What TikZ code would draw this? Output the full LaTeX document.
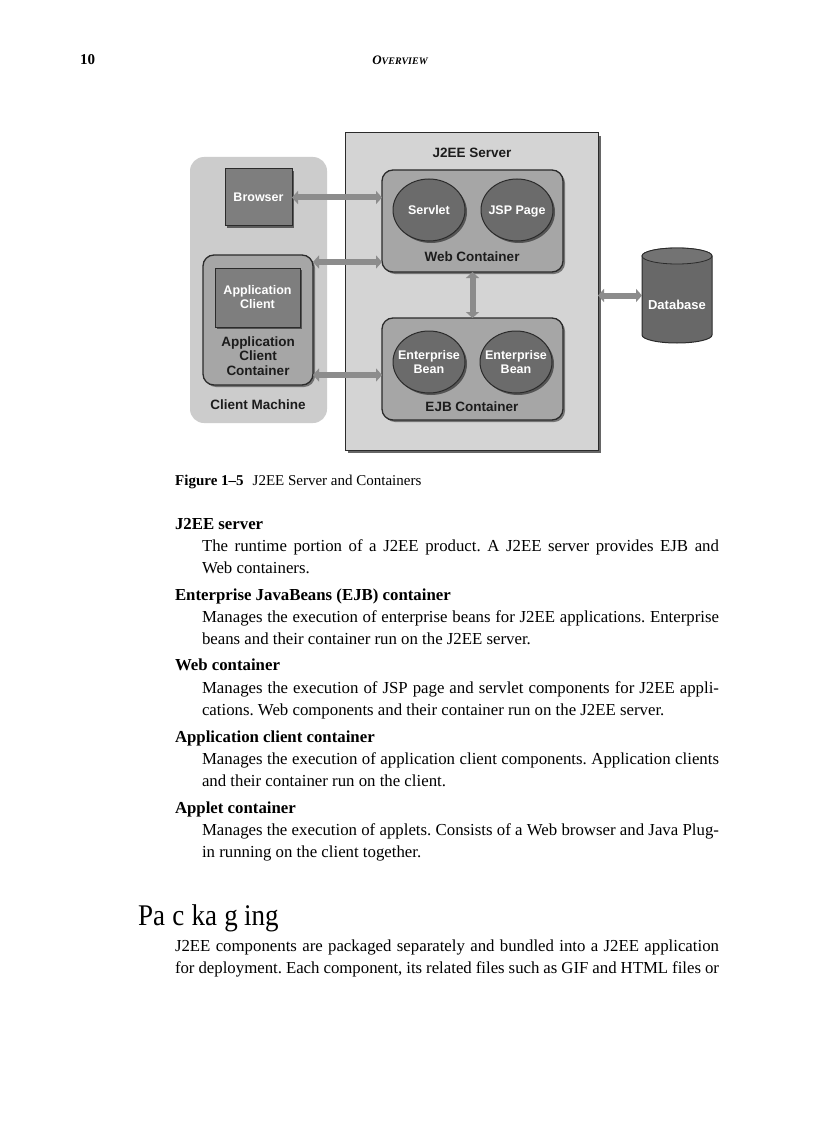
\documentclass[tikz,border=0pt]{standalone}
\usepackage{fontspec}
\setmainfont{Liberation Serif}
\newfontfamily\dsans{Liberation Sans}
\usetikzlibrary{arrows.meta,shapes.geometric,shadows}
\definecolor{cmgray}{HTML}{CCCCCC}
\definecolor{srvgray}{HTML}{D4D4D4}
\definecolor{contgray}{HTML}{A6A6A6}
\definecolor{circgray}{HTML}{6B6B6B}
\definecolor{boxgray}{HTML}{7E7E7E}
\definecolor{arrgray}{HTML}{8C8C8C}
\definecolor{dbgray}{HTML}{686868}
\definecolor{edgec}{HTML}{2B2B2B}
\definecolor{labc}{HTML}{1C1C1C}
\frenchspacing
\begin{document}
\begin{tikzpicture}[x=1pt,y=-1pt,
  cmbox/.style={fill=cmgray, rounded corners=14pt, inner sep=0pt, outer sep=0pt},
  srvbox/.style={fill=srvgray, draw=edgec, line width=1pt, inner sep=0pt, outer sep=0pt,
     drop shadow={shadow xshift=3pt, shadow yshift=-3pt, fill=black!75, opacity=0.8}},
  contbox/.style={fill=contgray, draw=edgec, line width=1.3pt, rounded corners=11pt, inner sep=0pt, outer sep=0pt,
     drop shadow={shadow xshift=2pt, shadow yshift=-2pt, fill=black!70, opacity=0.7}},
  compbox/.style={fill=boxgray, draw=edgec, line width=1pt, inner sep=0pt, outer sep=0pt, text=white,
     align=center, font=\dsans\bfseries\fontsize{12.5}{14}\selectfont,
     drop shadow={shadow xshift=2pt, shadow yshift=-2pt, fill=black!75, opacity=0.8}},
  comp/.style={ellipse, fill=circgray, draw=edgec, line width=1pt, inner sep=0pt, outer sep=0pt,
     minimum width=72pt, minimum height=62pt,
     drop shadow={shadow xshift=2pt, shadow yshift=-2pt, fill=black!75, opacity=0.8}},
  comptext/.style={text=white, align=center, inner sep=0pt, font=\dsans\bfseries\fontsize{12.5}{14}\selectfont},
  dlabel/.style={text=labc, align=center, inner sep=0pt, font=\dsans\bfseries\fontsize{13.5}{14.5}\selectfont},
  arr/.style={draw=arrgray, line width=6pt, {Triangle[length=6pt,width=13pt]}-{Triangle[length=6pt,width=13pt]}},
  txt/.style={anchor=base west, inner sep=0pt, outer sep=0pt, font=\fontsize{16.8}{22}\selectfont},
  hd/.style={anchor=base west, inner sep=0pt, outer sep=0pt, font=\fontsize{16.8}{22}\selectfont\bfseries}
]
\useasboundingbox (0,0) rectangle (816,1123);
\fill[white] (0,0) rectangle (816,1123);

% page header
\node[anchor=base west, inner sep=0pt, font=\fontsize{15}{18}\selectfont\bfseries] (pgno) at (80,65) {10};
\node[anchor=base, inner sep=0pt, font=\bfseries\itshape] (runhead) at (400,65)
  {\fontsize{13}{15}\selectfont O\fontsize{10}{12}\selectfont VERVIEW};

% ---------- diagram ----------
\node[cmbox, minimum width=137pt, minimum height=266pt] (cm) at (258.5,290) {};
\node[srvbox, minimum width=253pt, minimum height=317pt] (server) at (471.5,291.5) {};

\node[contbox, minimum width=181pt, minimum height=102pt] (webc) at (472.5,221) {};
\node[contbox, minimum width=181pt, minimum height=102pt] (ejbc) at (472.5,369) {};
\node[contbox, minimum width=110pt, minimum height=130pt] (appcc) at (258,320) {};

\node[compbox, minimum width=67pt, minimum height=57pt] (browser) at (258.5,197.5) {Browser};
\node[compbox, minimum width=85pt, minimum height=59pt] (appc) at (257.5,297.5) {Application\\Client};

\node[comp] (servlet) at (429,210) {};
\node[comp] (jsp) at (517,210) {};
\node[comp] (eb1) at (429,362) {};
\node[comp] (eb2) at (516,362) {};
\node[comptext, anchor=base] (servlett) at ([yshift=-4.5pt]servlet.center) {Servlet};
\node[comptext, anchor=base] (jspt) at ([yshift=-4.5pt]jsp.center) {JSP Page};
\node[comptext] (eb1t) at (eb1.center) {Enterprise\\Bean};
\node[comptext] (eb2t) at (eb2.center) {Enterprise\\Bean};

\node[dlabel] (srvlab) at (472,153) {J2EE Server};
\node[dlabel] (weblab) at (472,257) {Web Container};
\node[dlabel] (ejblab) at (472,407) {EJB Container};
\node[dlabel] (acclab) at (258,356) {Application\\Client\\Container};
\node[dlabel] (cmlab) at (258,405) {Client Machine};

% database cylinder
\fill[dbgray] (642,256) -- (642,335) arc[start angle=180, end angle=0, x radius=35, y radius=8]
  -- (712,256) arc[start angle=0, end angle=-180, x radius=35, y radius=8] -- cycle;
\draw[edgec, line width=1pt] (642,256) -- (642,335) arc[start angle=180, end angle=0, x radius=35, y radius=8]
  -- (712,256) arc[start angle=0, end angle=-180, x radius=35, y radius=8];
\draw[edgec, line width=0.8pt, fill=black!55] (677,256) ellipse[x radius=35, y radius=8];
\node[minimum width=70pt, minimum height=95pt, inner sep=0pt, outer sep=0pt] (db) at (677,295.5) {};
\node[text=white, inner sep=0pt, font=\dsans\bfseries\fontsize{13}{14}\selectfont] (dblab) at (677,305) {Database};

% connectors
\coordinate (a2) at (313,262);
\coordinate (a3) at (313,375);
\draw[arr] (browser.east) -- (browser.east -| webc.west);
\draw[arr] (a2) -- (a2 -| webc.west);
\draw[arr] (a3) -- (a3 -| ejbc.west);
\draw[arr] (webc.south) -- (ejbc.north);
\draw[arr] (db.west -| server.east) -- (db.west);

% ---------- caption ----------
\node[anchor=base west, inner sep=0pt, font=\fontsize{15}{18}\selectfont] (cap) at (175,485)
  {\textbf{Figure 1--5}\hspace{0.6em}J2EE Server and Containers};

% ---------- definitions ----------
\node[hd] (h1) at (175,529) {J2EE server};
\node[txt] (l1a) at (202,551) {\makebox[517pt][s]{The runtime portion of a J2EE product. A J2EE server provides EJB and}};
\node[txt] (l1b) at (202,573) {Web containers.};

\node[hd] (h2) at (175,600) {Enterprise JavaBeans (EJB) container};
\node[txt] (l2a) at (202,622) {\makebox[517pt][s]{Manages the execution of enterprise beans for J2EE applications. Enterprise}};
\node[txt] (l2b) at (202,644) {beans and their container run on the J2EE server.};

\node[hd] (h3) at (175,670) {Web container};
\node[txt] (l3a) at (202,693) {\makebox[517pt][s]{Manages the execution of JSP page and servlet components for J2EE appli-}};
\node[txt] (l3b) at (202,715) {cations. Web components and their container run on the J2EE server.};

\node[hd] (h4) at (175,742) {Application client container};
\node[txt] (l4a) at (202,764) {\makebox[517pt][s]{Manages the execution of application client components. Application clients}};
\node[txt] (l4b) at (202,786) {and their container run on the client.};

\node[hd] (h5) at (175,813) {Applet container};
\node[txt] (l5a) at (202,835) {\makebox[517pt][s]{Manages the execution of applets. Consists of a Web browser and Java Plug-}};
\node[txt] (l5b) at (202,857) {in running on the client together.};

% ---------- section ----------
\node[anchor=base west, inner sep=0pt, font=\fontsize{30}{34}\selectfont] (sect) at (138,925)
  {\scalebox{0.9}[1]{Pa\hspace{8pt}c\hspace{8pt}ka\hspace{8pt}g\hspace{7pt}ing}};

\node[txt] (p1) at (175,951) {\makebox[544pt][s]{J2EE components are packaged separately and bundled into a J2EE application}};
\node[txt] (p2) at (175,973) {\makebox[544pt][s]{for deployment. Each component, its related files such as GIF and HTML files or}};
\end{tikzpicture}
\end{document}
